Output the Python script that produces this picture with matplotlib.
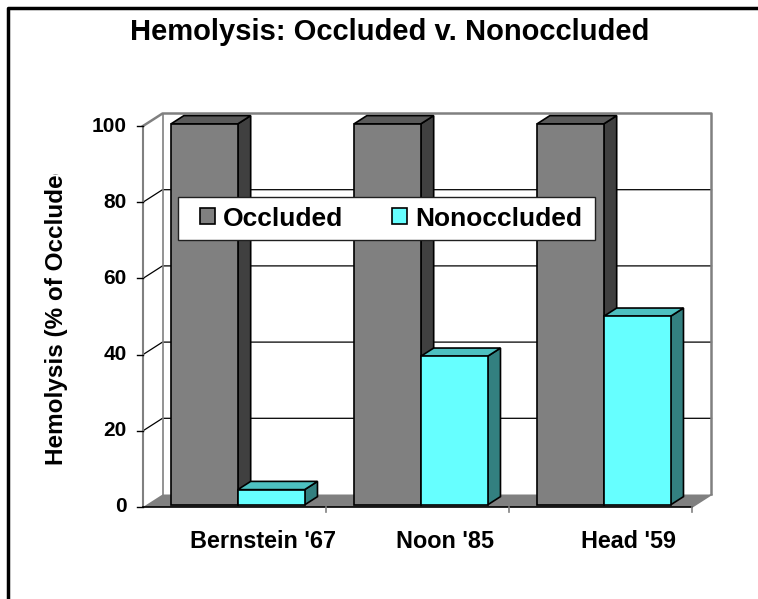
import matplotlib
matplotlib.use("Agg")
from matplotlib import pyplot as plt
from matplotlib.patches import Polygon, Patch, Rectangle
from matplotlib.transforms import Bbox, TransformedBbox

plt.rcParams['font.family'] = ['Liberation Sans', 'DejaVu Sans']
plt.rcParams['font.weight'] = 'bold'

categories = ["Bernstein '67", "Noon '85", "Head '59"]
occluded = [100, 100, 100]
nonoccluded = [4, 39, 49.5]
series_names = ['Occluded', 'Nonoccluded']
yticks = [0, 20, 40, 60, 80, 100]

W, H = 758, 599
fig = plt.figure(figsize=(W / 100, H / 100), dpi=100)

# front plane of the 3d box, in pixels
x0, x1 = 143, 692
y0, y1 = 507, 126
ax = fig.add_axes([x0 / W, (H - y0) / H, (x1 - x0) / W, (y0 - y1) / H])
ax.set_xlim(0, 3)
ax.set_ylim(0, 100)
ax.axis('off')

px_x = (x1 - x0) / 3      # pixels per category
px_y = (y0 - y1) / 100    # pixels per unit

# depth offset in data units
DX = 19.5 / px_x
DY = 12.5 / px_y

grey = '#808080'

def poly(pts, fc, ec='black', lw=1.2, z=2):
    ax.add_patch(Polygon(pts, closed=True, facecolor=fc, edgecolor=ec,
                         linewidth=lw, zorder=z, clip_on=False, joinstyle='miter'))

# walls
poly([(DX, DY), (3 + DX, DY), (3 + DX, 100 + DY), (DX, 100 + DY)], 'white', ec='none', z=1)
for v in yticks[1:-1]:
    ax.plot([0, DX, 3 + DX], [v, v + DY, v + DY], color='black', lw=0.9, zorder=1.5, clip_on=False)
ax.plot([0, DX, 3 + DX, 3 + DX], [100, 100 + DY, 100 + DY, DY], color=grey, lw=1.8,
        zorder=1.6, clip_on=False)
ax.plot([DX, DX], [DY, 100 + DY], color=grey, lw=1.2, zorder=1.6, clip_on=False)
ax.plot([0, 0], [0, 100], color=grey, lw=1.5, zorder=1.6, clip_on=False)

# floor
poly([(0, 0), (3, 0), (3 + DX, DY), (DX, DY)], grey, ec='none', z=1.7)
ax.plot([3, 3 + DX], [0, DY], color=grey, lw=1.2, zorder=1.7, clip_on=False)
ax.plot([0, 3], [0, 0], color='black', lw=1.2, zorder=1.8, clip_on=False)

# ticks
for v in yticks:
    ax.plot([-6 / px_x, 0], [v, v], color='black', lw=1, clip_on=False)
    ax.text(-16 / px_x, v, str(v), ha='right', va='center',
            fontsize=15, fontweight='bold')
for i in range(1, 4):
    ax.plot([i, i], [0, -5 / px_y], color=grey, lw=1.2, clip_on=False)
# category labels sit a bit right of the category centre, as excel draws them
for i, c in enumerate(categories):
    ax.text(i + 0.5 + 28 / px_x, -34 / px_y, c, ha='center', va='center',
            fontsize=16.8, fontweight='bold')

# bars
f0, f1 = 0.17, 0.83
def bar3d(xl, xr, h, front, top, side):
    ox, oy = f0 * DX, f0 * DY
    bx, by = f1 * DX, f1 * DY
    poly([(xr + ox, oy), (xr + bx, by), (xr + bx, h + by), (xr + ox, h + oy)], side, z=3)
    poly([(xl + ox, h + oy), (xr + ox, h + oy), (xr + bx, h + by), (xl + bx, h + by)], top, z=3)
    poly([(xl + ox, oy), (xr + ox, oy), (xr + ox, h + oy), (xl + ox, h + oy)], front, z=3)

for i in range(3):
    bar3d(i + 0.135, i + 0.5, occluded[i], '#808080', '#5a5a5a', '#404040')
    bar3d(i + 0.5, i + 0.865, nonoccluded[i], '#66FFFF', '#4DC0C0', '#338080')

# legend box drawn separately so its padding can match
fig.add_artist(Rectangle((178 / W, 1 - 240 / H), (595 - 178) / W, 43 / H,
                         transform=fig.transFigure, facecolor='white',
                         edgecolor='#202020', lw=1, zorder=9))
handles = [Patch(facecolor='#808080', edgecolor='black', lw=1.2),
           Patch(facecolor='#66FFFF', edgecolor='black', lw=1.2)]
leg = fig.legend(handles, series_names, ncol=2, loc='center',
                 bbox_to_anchor=(391 / W, 1 - 218.5 / H), frameon=False,
                 prop={'size': 19, 'weight': 'bold'}, handlelength=0.57, handleheight=0.57,
                 handletextpad=0.3, columnspacing=1.85, borderpad=0.35, borderaxespad=0)
leg.set_zorder(10)

# title
fig.text(390 / W, 1 - 32 / H, 'Hemolysis: Occluded v. Nonoccluded', ha='center', va='center',
         fontsize=21, fontweight='bold')

# y label, cut off at the top as in the original
yl = fig.text(57 / W, 1 - 465 / H, 'Hemolysis (% of Occluded)', rotation=90,
              ha='center', va='bottom', fontsize=17.5, fontweight='bold')
yl.set_clip_on(True)
yl.set_clip_box(TransformedBbox(Bbox([[0, 0], [1, 1 - 174 / H]]), fig.transFigure))

# outer frame (top and left only)
fig.add_artist(plt.Line2D([7.5 / W, 7.5 / W, 1], [0, 1 - 8 / H, 1 - 8 / H],
                          transform=fig.transFigure, color='black', lw=2.5))

fig.savefig('out.png', dpi=100, facecolor='white')
